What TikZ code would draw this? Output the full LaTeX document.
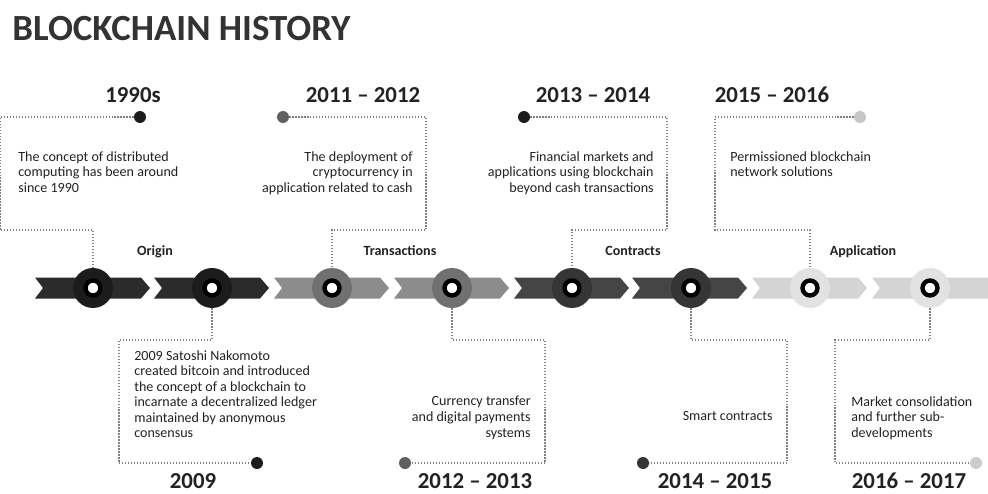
\documentclass[tikz,border=0pt]{standalone}
\usepackage{fontspec}
\setmainfont{Carlito}
\definecolor{ink}{HTML}{222222}
\definecolor{headline}{HTML}{333333}
\definecolor{bandA}{HTML}{2B2B2B}
\definecolor{bandB}{HTML}{8C8C8C}
\definecolor{bandC}{HTML}{454545}
\definecolor{bandD}{HTML}{D4D4D4}
\definecolor{hubA}{HTML}{1C1C1C}
\definecolor{hubB}{HTML}{707070}
\definecolor{hubC}{HTML}{353535}
\definecolor{hubD}{HTML}{E2E2E2}
\begin{document}
\begin{tikzpicture}[x=0.02cm, y=-0.02cm,
    hub/.style={circle, minimum size=0.8cm, inner sep=0pt},
    eye/.style={circle, draw=black, line width=2.5pt, fill=white, minimum size=0.3cm, inner sep=0pt},
    dot/.style={circle, minimum size=0.24cm, inner sep=0pt},
    leader/.style={densely dotted, line width=0.7pt, gray},
    note/.style={inner sep=0pt, font=\fontsize{8}{8.85}\selectfont, text=ink},
    year/.style={inner sep=0pt, font=\bfseries\fontsize{13}{15}\selectfont, text=ink},
    phase/.style={inner sep=0pt, anchor=base, font=\bfseries\fontsize{8}{10}\selectfont, text=ink}]
    \useasboundingbox (0,0) rectangle (988,494);

    % title
    \node[anchor=west, inner sep=0pt, font=\bfseries\fontsize{21}{24}\selectfont, text=headline] (title) at (12,29) {BLOCKCHAIN HISTORY};

    % timeline band
    \fill[bandA] (35,277.5) -- (141,277.5) -- (150,288) -- (141,298.5) -- (35,298.5) -- (43,288) -- cycle;
    \fill[bandA] (154,277.5) -- (260,277.5) -- (269,288) -- (260,298.5) -- (154,298.5) -- (162,288) -- cycle;
    \fill[bandB] (274,277.5) -- (380,277.5) -- (389,288) -- (380,298.5) -- (274,298.5) -- (282,288) -- cycle;
    \fill[bandB] (394,277.5) -- (500,277.5) -- (509,288) -- (500,298.5) -- (394,298.5) -- (402,288) -- cycle;
    \fill[bandC] (514,277.5) -- (620,277.5) -- (629,288) -- (620,298.5) -- (514,298.5) -- (522,288) -- cycle;
    \fill[bandC] (632,277.5) -- (738,277.5) -- (747,288) -- (738,298.5) -- (632,298.5) -- (640,288) -- cycle;
    \fill[bandD] (752,277.5) -- (858,277.5) -- (867,288) -- (858,298.5) -- (752,298.5) -- (760,288) -- cycle;
    \fill[bandD] (872,277.5) -- (988,277.5) -- (988,298.5) -- (872,298.5) -- (880,288) -- cycle;

    % hubs
    \node[hub, fill=hubA] (c1) at (93,288) {};
    \node[hub, fill=hubA] (c2) at (212,288) {};
    \node[hub, fill=hubB] (c3) at (332,288) {};
    \node[hub, fill=hubB] (c4) at (452,288) {};
    \node[hub, fill=hubC] (c5) at (572,288) {};
    \node[hub, fill=hubC] (c6) at (691,288) {};
    \node[hub, fill=hubD] (c7) at (810,288) {};
    \node[hub, fill=hubD] (c8) at (930,288) {};

    % year dots
    \node[dot, fill=hubA] (d1) at (140,117) {};
    \node[dot, fill=gray!75!black] (d2) at (283,117) {};
    \node[dot, fill=hubA] (d3) at (524,117) {};
    \node[dot, fill=gray!45] (d4) at (860,117) {};
    \node[dot, fill=hubA] (d5) at (257,463) {};
    \node[dot, fill=gray!75!black] (d6) at (405,463) {};
    \node[dot, fill=hubC] (d7) at (643,463) {};
    \node[dot, fill=gray!40] (d8) at (976,463) {};

    % dotted leaders
    \draw[leader] (d1) -- (0,117) |- (c1 |- 0,230) -- (c1);
    \draw[leader] (d2) -- (426,117) |- (c3 |- 0,230) -- (c3);
    \draw[leader] (d3) -- (667,117) |- (c5 |- 0,230) -- (c5);
    \draw[leader] (d4) -- (715,117) |- (c7 |- 0,230) -- (c7);
    \draw[leader] (c2) -- (c2 |- 0,340) -| (119,463) -- (d5);
    \draw[leader] (c4) -- (c4 |- 0,340) -| (545,463) -- (d6);
    \draw[leader] (c6) -- (c6 |- 0,340) -| (787,463) -- (d7);
    \draw[leader] (c8) -- (c8 |- 0,340) -| (835,463) -- (d8);

    % hub centres
    \node[eye] (o1) at (c1) {};
    \node[eye] (o2) at (c2) {};
    \node[eye] (o3) at (c3) {};
    \node[eye] (o4) at (c4) {};
    \node[eye] (o5) at (c5) {};
    \node[eye] (o6) at (c6) {};
    \node[eye] (o7) at (c7) {};
    \node[eye] (o8) at (c8) {};

    % years
    \node[year] (y1) at (133,95) {1990s};
    \node[year] (y2) at (363,95) {2011 -- 2012};
    \node[year] (y3) at (593,95) {2013 -- 2014};
    \node[year] (y4) at (772,95) {2015 -- 2016};
    \node[year] (y5) at (193,481) {2009};
    \node[year] (y6) at (475,481) {2012 -- 2013};
    \node[year] (y7) at (715,481) {2014 -- 2015};
    \node[year] (y8) at (909,481) {2016 -- 2017};

    % phases
    \node[phase] (origin) at (155,255) {Origin};
    \node[phase] (transactions) at (400,255) {Transactions};
    \node[phase] (contracts) at (633,255) {Contracts};
    \node[phase] (application) at (863,255) {Application};

    % notes
    \node[note, anchor=north west, align=left] (n1) at (18,151) {The concept of distributed\\computing has been around\\since 1990};
    \node[note, anchor=north east, align=right] (n2) at (413,151) {The deployment of\\cryptocurrency in\\application related to cash};
    \node[note, anchor=north east, align=right] (n3) at (654,151) {Financial markets and\\applications using blockchain\\beyond cash transactions};
    \node[note, anchor=north west, align=left] (n4) at (730,151) {Permissioned blockchain\\network solutions};
    \node[note, anchor=north west, align=left] (n5) at (134,350) {2009 Satoshi Nakomoto\\created bitcoin and introduced\\the concept of a blockchain to\\incarnate a decentralized ledger\\maintained by anonymous\\consensus};
    \node[note, anchor=north east, align=right] (n6) at (531,396) {Currency transfer\\and digital payments\\systems};
    \node[note, anchor=north east, align=right] (n7) at (773,411) {Smart contracts};
    \node[note, anchor=north west, align=left] (n8) at (851,396) {Market consolidation\\and further sub-\\developments};
\end{tikzpicture}
\end{document}
